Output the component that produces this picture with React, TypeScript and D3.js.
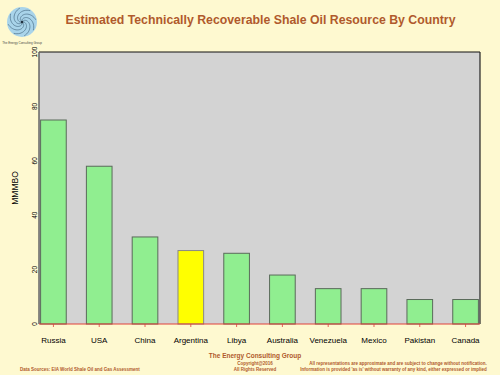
import React from "react";
import * as d3 from "d3";

const countries = ["Russia", "USA", "China", "Argentina", "Libya", "Australia", "Venezuela", "Mexico", "Pakistan", "Canada"];
const resources = [75, 58, 32, 27, 26, 18, 13, 13, 9, 9];
const highlight = ["Argentina"];
const yTicks = [0, 20, 40, 60, 80, 100];

const W = 500, H = 375;
const M = { left: 39, right: 480, top: 52, bottom: 324 };
const BROWN = "#b05a2c";

export default function App() {
  const x = d3.scaleBand<string>().domain(countries).range([M.left, M.right]).paddingInner(0.44).paddingOuter(0.035);
  const y = d3.scaleLinear().domain([0, 100]).range([M.bottom, M.top]);
  const font = "Arial, 'Liberation Sans', sans-serif";
  const spiral = d3.range(8).map((i) => {
    const pts: [number, number][] = d3.range(0, 1.01, 0.05).map((t) => {
      const a = (i * Math.PI) / 4 + t * 2.2;
      const r = 2 + t * 12;
      return [22 + r * Math.cos(a), 22 + r * Math.sin(a)];
    });
    return d3.line()(pts) as string;
  });
  return (
    <svg width={W} height={H} style={{ position: "absolute", left: 0, top: 0, fontFamily: font }}>
      <rect x={0} y={0} width={W} height={H} fill="#fef9d0" />
      {/* logo */}
      <circle cx={22} cy={22} r={15} fill="#a9d4ea" />
      {spiral.map((d, i) => (
        <path key={i} d={d} fill="none" stroke="#4a6f86" strokeWidth={0.7} />
      ))}
      <circle cx={22} cy={22} r={1.5} fill="#203040" />
      <text x={22} y={44} textAnchor="middle" fontSize={3} fill="#444">The Energy Consulting Group</text>
      {/* title */}
      <text x={260.5} y={24} textAnchor="middle" fontSize={12.3} fontWeight="bold" fill={BROWN}>
        Estimated Technically Recoverable Shale Oil Resource By Country
      </text>
      {/* plot */}
      <rect x={M.left} y={M.top} width={M.right - M.left} height={M.bottom - M.top} fill="#d3d3d3" />
      {countries.map((c, i) => (
        <rect
          key={c}
          x={x(c)}
          y={y(resources[i])}
          width={x.bandwidth()}
          height={M.bottom - y(resources[i])}
          fill={highlight.includes(c) ? "#ffff00" : "#90ee90"}
          stroke={highlight.includes(c) ? "#888" : "#5a6a5a"}
          strokeWidth={1}
        />
      ))}
      <line x1={M.left} x2={M.right} y1={M.top} y2={M.top} stroke="#111" strokeWidth={1.2} />
      <line x1={M.right} x2={M.right} y1={M.top} y2={M.bottom} stroke="#222" strokeWidth={1.2} />
      <line x1={M.left} x2={M.left} y1={M.top} y2={M.bottom} stroke="#666" strokeWidth={1.5} />
      <line x1={M.left} x2={M.right} y1={M.bottom} y2={M.bottom} stroke="#e0403a" strokeWidth={1} />
      {countries.map((c) => {
        const cx = (x(c) as number) + x.bandwidth() / 2;
        return (
          <g key={c}>
            <line x1={cx} x2={cx} y1={M.bottom} y2={M.bottom + 3} stroke="#e0403a" strokeWidth={0.8} />
            <text x={cx} y={343} textAnchor="middle" fontSize={8} fill="#000">{c}</text>
          </g>
        );
      })}
      {yTicks.map((t) => (
        <text key={t} transform={`translate(37,${y(t)}) rotate(-90)`} textAnchor="middle" fontSize={6.5} fill="#000">{t}</text>
      ))}
      <text transform={`translate(18,188) rotate(-90)`} textAnchor="middle" fontSize={8.5} fill="#000">MMMBO</text>
      {/* footer */}
      <text x={255} y={358} textAnchor="middle" fontSize={6.5} fontWeight="bold" fill={BROWN}>The Energy Consulting Group</text>
      <text x={255} y={364.5} textAnchor="middle" fontSize={4.5} fontWeight="bold" fill={BROWN}>Copyright@2016</text>
      <text x={255} y={371} textAnchor="middle" fontSize={4.5} fontWeight="bold" fill={BROWN}>All Rights Reserved</text>
      <text x={398} y={364.5} textAnchor="middle" fontSize={4.5} fontWeight="bold" fill={BROWN}>All representations are approximate and are subject to change without notification.</text>
      <text x={393.5} y={371} textAnchor="middle" fontSize={4.5} fontWeight="bold" fill={BROWN}>Information is provided 'as is' without warranty of any kind, either expressed or implied</text>
      <text x={20} y={371} fontSize={4.5} fontWeight="bold" fill={BROWN}>Data Sources: EIA World Shale Oil and Gas Assessment</text>
    </svg>
  );
}
